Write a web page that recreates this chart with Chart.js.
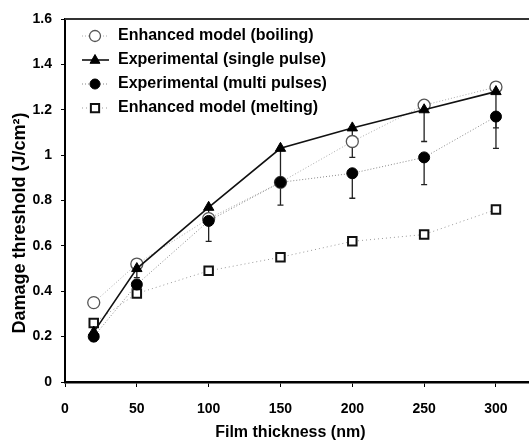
<!DOCTYPE html>
<html>
<head>
<meta charset="utf-8">
<script src="https://cdn.jsdelivr.net/npm/chart.js@4.4.1/dist/chart.umd.min.js"></script>
<style>
  html, body { margin: 0; padding: 0; background: #fff; }
  canvas { display: block; }
</style>
</head>
<body>
<canvas id="chart" width="529" height="445"></canvas>
<script>
// datos
const thickness = [20, 50, 100, 150, 200, 250, 300];
const boiling   = [0.35, 0.52, 0.72, 0.88, 1.06, 1.22, 1.30];
const single    = [0.22, 0.50, 0.77, 1.03, 1.12, 1.20, 1.28];
const multi     = [0.20, 0.43, 0.71, 0.88, 0.92, 0.99, 1.17];
const melting   = [0.26, 0.39, 0.49, 0.55, 0.62, 0.65, 0.76];
// barras de error (solo hacia abajo)
const singleErr = [0.02, 0.04, 0.03, 0.15, 0.13, 0.14, 0.16];
const multiErr  = [0.02, 0.04, 0.09, 0.10, 0.11, 0.12, 0.14];
const seriesNames = [
    'Enhanced model (boiling)',
    'Experimental (single pulse)',
    'Experimental (multi pulses)',
    'Enhanced model (melting)'
];

const FONT = "'Liberation Sans', Arial, sans-serif";

function toPoints(values) {
    return thickness.map((t, i) => ({ x: t, y: values[i] }));
}

function drawMarker(ctx, style, r, x, y) {
    if (style === 'circle') {
        ctx.arc(x, y, r, 0, Math.PI * 2);
    } else if (style === 'triangle') {
        ctx.moveTo(x, y - r);
        ctx.lineTo(x + r * 0.9, y + r * 0.6);
        ctx.lineTo(x - r * 0.9, y + r * 0.6);
        ctx.closePath();
    } else {
        ctx.rect(x - r * 0.75, y - r * 0.75, r * 1.5, r * 1.5);
    }
}

// icono de leyenda: línea + marcador
function legendIcon(ds) {
    const c = document.createElement('canvas');
    c.width = 37; c.height = 14;
    const ctx = c.getContext('2d');
    ctx.strokeStyle = ds.borderColor;
    ctx.lineWidth = ds.borderWidth;
    ctx.setLineDash(ds.borderDash || []);
    ctx.beginPath();
    ctx.moveTo(9, 7); ctx.lineTo(36, 7);
    ctx.stroke();
    ctx.setLineDash([]);
    ctx.fillStyle = ds.pointBackgroundColor;
    ctx.strokeStyle = ds.pointBorderColor;
    ctx.lineWidth = ds.pointBorderWidth;
    ctx.beginPath();
    drawMarker(ctx, ds.pointStyle, ds.pointRadius - 0.5, 22, 7);
    ctx.fill();
    ctx.stroke();
    return c;
}

// plugin: barras de error y borde superior
const extrasPlugin = {
    id: 'extras',
    beforeDatasetsDraw(chart) {
        const ctx = chart.ctx;
        const xs = chart.scales.x, ys = chart.scales.y;
        ctx.save();
        ctx.strokeStyle = '#222';
        ctx.lineWidth = 1.3;
        [[single, singleErr], [multi, multiErr]].forEach(([vals, errs]) => {
            vals.forEach((v, i) => {
                const px = xs.getPixelForValue(thickness[i]);
                const y1 = ys.getPixelForValue(v);
                const y2 = ys.getPixelForValue(v - errs[i]);
                ctx.beginPath();
                ctx.moveTo(px, y1); ctx.lineTo(px, y2);
                ctx.moveTo(px - 3, y2); ctx.lineTo(px + 3, y2);
                ctx.stroke();
            });
        });
        ctx.restore();
    },
    afterDraw(chart) {
        const { ctx, chartArea } = chart;
        ctx.save();
        ctx.strokeStyle = '#333';
        ctx.lineWidth = 2;
        ctx.beginPath();
        ctx.moveTo(chartArea.left, chartArea.top);
        ctx.lineTo(chartArea.right, chartArea.top);
        ctx.stroke();
        ctx.restore();
    }
};

const datasets = [
    {
        label: seriesNames[0],
        data: toPoints(boiling),
        borderColor: '#aaa', borderWidth: 1, borderDash: [1, 2],
        pointStyle: 'circle', pointRadius: 6, pointBorderWidth: 1.3,
        pointBackgroundColor: '#fff', pointBorderColor: '#555',
        order: 4
    },
    {
        label: seriesNames[1],
        data: toPoints(single),
        borderColor: '#111', borderWidth: 1.6,
        pointStyle: 'triangle', pointRadius: 6, pointBorderWidth: 1,
        pointBackgroundColor: '#000', pointBorderColor: '#000',
        order: 1
    },
    {
        label: seriesNames[2],
        data: toPoints(multi),
        borderColor: '#888', borderWidth: 1, borderDash: [1, 2],
        pointStyle: 'circle', pointRadius: 5.5, pointBorderWidth: 1,
        pointBackgroundColor: '#000', pointBorderColor: '#000',
        order: 2
    },
    {
        label: seriesNames[3],
        data: toPoints(melting),
        borderColor: '#999', borderWidth: 1, borderDash: [1, 3],
        pointStyle: 'rect', pointRadius: 6, pointBorderWidth: 2,
        pointBackgroundColor: '#fff', pointBorderColor: '#111',
        order: 3
    }
];

const icons = datasets.map(legendIcon);

new Chart(document.getElementById('chart'), {
    type: 'line',
    data: { datasets },
    plugins: [extrasPlugin],
    options: {
        responsive: false,
        animation: false,
        layout: { autoPadding: false, padding: { top: 19, right: 0, left: 0, bottom: 0 } },
        plugins: {
            tooltip: { enabled: false },
            legend: {
                position: 'chartArea',
                align: 'start',
                // título vacío para bajar la leyenda dentro del área
                title: { display: true, text: '', padding: { top: 8, bottom: 0 }, font: { size: 10 } },
                labels: {
                    usePointStyle: true,
                    pointStyleWidth: 37,
                    padding: 8,
                    color: '#000',
                    font: { family: FONT, size: 16, weight: 'bold' },
                    generateLabels: chart => datasets.map((ds, i) => ({
                        text: ds.label,
                        pointStyle: icons[i],
                        fillStyle: 'transparent',
                        strokeStyle: 'transparent',
                        lineWidth: 0,
                        fontColor: '#000',
                        datasetIndex: i
                    }))
                }
            }
        },
        scales: {
            x: {
                type: 'linear',
                min: 0, max: 323,
                afterFit: s => { s.height = 63; },
                border: { display: true, color: '#000', width: 2.5 },
                grid: { drawOnChartArea: false, drawTicks: true, tickLength: 5, color: '#000', lineWidth: 1 },
                ticks: {
                    stepSize: 50, includeBounds: false, padding: 14, color: '#000',
                    font: { family: FONT, size: 14, weight: 'bold' }
                },
                title: {
                    display: true, text: 'Film thickness (nm)   ', color: '#000',
                    padding: { top: 0, bottom: 3 },
                    font: { family: FONT, size: 16, weight: 'bold' }
                }
            },
            y: {
                min: 0, max: 1.6,
                afterFit: s => { s.width = 65; },
                border: { display: true, color: '#000', width: 2 },
                grid: { drawOnChartArea: false, drawTicks: true, tickLength: 4, color: '#000', lineWidth: 1 },
                ticks: {
                    stepSize: 0.2, padding: 9, color: '#000',
                    font: { family: FONT, size: 14, weight: 'bold' },
                    callback: v => String(Number(v.toFixed(1)))
                },
                title: {
                    display: true, text: 'Damage threshold (J/cm²)         ', color: '#000',
                    padding: { top: 9, bottom: 0 },
                    font: { family: FONT, size: 18, weight: 'bold' }
                }
            }
        }
    }
});
</script>
</body>
</html>
